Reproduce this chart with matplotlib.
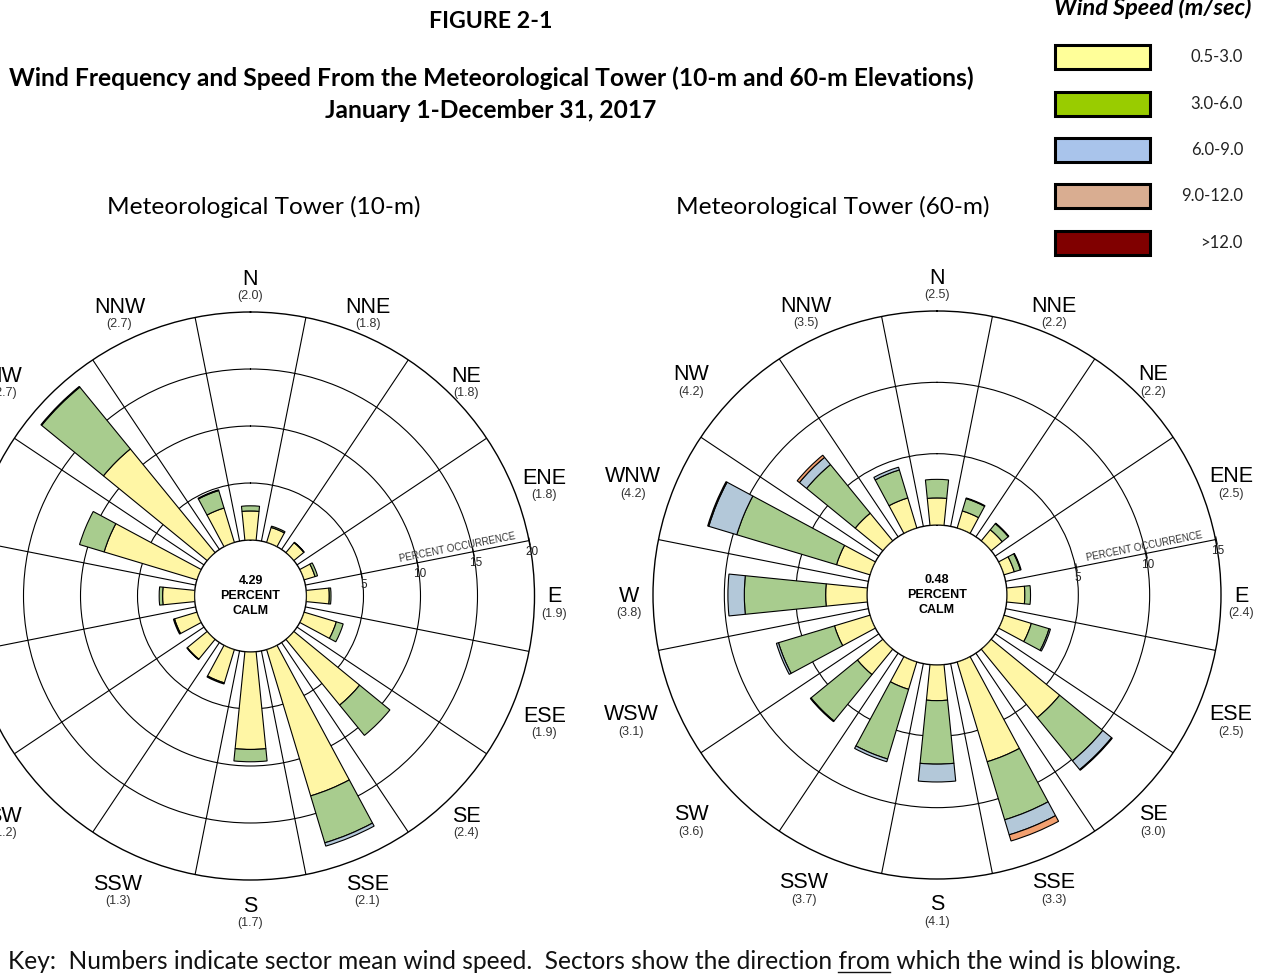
import numpy as np
import matplotlib
matplotlib.use("Agg")
import matplotlib.pyplot as plt
from matplotlib.patches import Rectangle
from matplotlib.lines import Line2D
from matplotlib.transforms import offset_copy
from matplotlib.font_manager import FontProperties

# ---------------- data ----------------
directions = ["N", "NNE", "NE", "ENE", "E", "ESE", "SE", "SSE",
              "S", "SSW", "SW", "WSW", "W", "WNW", "NW", "NNW"]
speed_classes = ["0.5-3.0", "3.0-6.0", "6.0-9.0", "9.0-12.0", ">12.0"]

# 10-m tower, percent occurrence by speed class
t10_s1 = [2.55, 1.37, 1.13, 1.00, 2.00, 2.95, 7.45, 13.40, 8.55, 3.05, 2.25, 2.05, 2.80, 8.50, 11.75, 3.15]
t10_s2 = [0.45, 0.12, 0.05, 0.23, 0.15, 0.63, 3.43, 4.30, 1.08, 0.10, 0.05, 0.10, 0.30, 2.25, 7.00, 1.60]
t10_s3 = [0.00, 0.00, 0.00, 0.00, 0.00, 0.00, 0.00, 0.30, 0.00, 0.00, 0.00, 0.00, 0.00, 0.00, 0.08, 0.07]
t10_s4 = [0.0] * 16
t10_s5 = [0.0] * 16
t10_mean = ["2.0", "1.8", "1.8", "1.8", "1.9", "1.9", "2.4", "2.1", "1.7", "1.3", "1.2", "1.3", "2.0", "2.6", "2.7", "2.7"]
t10_calm = "4.29"

# 60-m tower, percent occurrence by speed class
t60_s1 = [1.90, 1.25, 1.00, 0.75, 1.25, 2.00, 6.20, 7.30, 2.50, 2.00, 2.30, 2.60, 2.90, 2.45, 2.50, 2.20]
t60_s2 = [1.30, 0.90, 0.55, 0.45, 0.40, 1.30, 3.90, 4.25, 4.45, 5.10, 4.20, 4.10, 5.70, 7.30, 4.40, 2.05]
t60_s3 = [0.00, 0.05, 0.05, 0.05, 0.00, 0.10, 0.80, 1.10, 1.25, 0.20, 0.06, 0.15, 1.15, 2.05, 0.65, 0.20]
t60_s4 = [0.00, 0.00, 0.00, 0.00, 0.00, 0.00, 0.06, 0.45, 0.00, 0.00, 0.00, 0.00, 0.00, 0.08, 0.20, 0.00]
t60_s5 = [0.0] * 16
t60_mean = ["2.5", "2.2", "2.2", "2.5", "2.4", "2.5", "3.0", "3.3", "4.1", "3.7", "3.6", "3.1", "3.8", "4.2", "4.2", "3.5"]
t60_calm = "0.48"

# ---------------- styles / layout ----------------
bar_colors = ["#FFF6A5", "#A8CC8E", "#B3C8D9", "#F2A070", "#7F0000"]
legend_colors = ["#FFFF99", "#99CC00", "#A9C4EB", "#D9AD91", "#800000"]
ROSE_FONT = ["Liberation Sans", "DejaVu Sans"]
TXT_FONT = ["Lato", "DejaVu Sans"]

W_PX, H_PX = 1267, 975
fig = plt.figure(figsize=(W_PX / 100, H_PX / 100), dpi=100)
fig.patch.set_facecolor("white")

AX_PX = 568.0  # polar axes size in pixels (outer ring radius 284 px)
# direction-name placement relative to the rose centre (pixels, x right / y down)
name_dx = [0, 117, 216, 294, 304, 294, 216, 117, 0, -133, -246, -306, -308, -304, -246, -131]
name_dy = [-317, -289, -220, -118, 1, 120, 220, 288, 310, 288, 220, 120, 1, -118, -220, -289]


def px_axes(cx, cy):
    return [(cx - AX_PX / 2) / W_PX, 1 - (cy + AX_PX / 2) / H_PX, AX_PX / W_PX, AX_PX / H_PX]


def draw_rose(cx, cy, layers, rmax, rings, calm_txt, means, hole, pct_label_r):
    ax = fig.add_axes(px_axes(cx, cy), projection="polar")
    ax.set_theta_zero_location("N")
    ax.set_theta_direction(-1)
    ax.set_ylim(0, rmax)
    ax.set_rorigin(-hole)
    ax.set_axisbelow(True)

    theta = np.deg2rad(np.arange(16) * 22.5)
    width = np.deg2rad(11.5)
    bottom = np.zeros(16)
    for vals, col in zip(layers, bar_colors):
        v = np.asarray(vals, dtype=float)
        m = v > 0
        if m.any():
            ax.bar(theta[m], v[m], width=width, bottom=bottom[m], color=col,
                   edgecolor="black", linewidth=0.8, zorder=3)
        bottom += v

    ax.set_xticks(np.deg2rad(np.arange(11.25, 360, 22.5)))
    ax.set_xticklabels([])
    ax.set_yticks(rings)
    ax.set_yticklabels([])
    ax.tick_params(length=0)
    ax.grid(True, color="black", linewidth=0.8)
    for s in ax.spines.values():
        s.set_color("black")
        s.set_linewidth(1.0)

    # percent occurrence axis along the ENE/E boundary
    ta = np.deg2rad(78.75)
    tick_vals = list(rings) + [rmax]
    ax.plot([ta] * len(tick_vals), tick_vals, linestyle="none", marker=(2, 0, 11.25),
            markersize=6, markeredgewidth=0.8, color="black", clip_on=False, zorder=4)
    tr_lab = offset_copy(ax.transData, fig=fig, x=2.5, y=-11, units="dots")
    for v in tick_vals:
        ax.text(ta, v, f"{v:g}", transform=tr_lab, ha="center", va="center",
                fontsize=8.5, color="#222222", family=ROSE_FONT, zorder=5)
    tr_pct = offset_copy(ax.transData, fig=fig, x=-1.4, y=7, units="dots")
    ax.text(ta, pct_label_r, "PERCENT OCCURRENCE", transform=tr_pct, rotation=11.25,
            rotation_mode="anchor", ha="center", va="center", fontsize=7,
            color="#333333", family=ROSE_FONT, zorder=5)

    # calm
    ax.text(0.5, 0.5, f"{calm_txt}\nPERCENT\nCALM", transform=ax.transAxes,
            ha="center", va="center", fontsize=9, fontweight="bold",
            linespacing=1.3, family=ROSE_FONT)

    # direction labels with sector mean speed
    for i, (d, mv) in enumerate(zip(directions, means)):
        x = 0.5 + name_dx[i] / AX_PX
        y = 0.5 - name_dy[i] / AX_PX
        ax.text(x, y, d, transform=ax.transAxes, ha="center", va="center",
                fontsize=15.5, family=ROSE_FONT, clip_on=False)
        ax.text(x, y - 17 / AX_PX, f"({mv})", transform=ax.transAxes, ha="center",
                va="center", fontsize=9, color="#333333", family=ROSE_FONT, clip_on=False)
    return ax


draw_rose(250.5, 596, [t10_s1, t10_s2, t10_s3, t10_s4, t10_s5], 20, [5, 10, 15],
          t10_calm, t10_mean, 4.91, 13.7)
draw_rose(937, 595, [t60_s1, t60_s2, t60_s3, t60_s4, t60_s5], 15, [5, 10],
          t60_calm, t60_mean, 4.905, 10.0)


def fx(px):
    return px / W_PX


def fy(py):
    return 1 - py / H_PX


# titles
fig.text(fx(491), fy(21), "FIGURE 2-1", ha="center", va="center", fontsize=16.7,
         fontweight="bold", family=TXT_FONT)
fig.text(fx(491), fy(78), "Wind Frequency and Speed From the Meteorological Tower (10-m and 60-m Elevations)",
         ha="center", va="center", fontsize=17.75, fontweight="bold", family=TXT_FONT)
fig.text(fx(491), fy(110), "January 1-December 31, 2017", ha="center", va="center",
         fontsize=17.7, fontweight="bold", family=TXT_FONT)
fig.text(fx(264), fy(207), "Meteorological Tower (10-m)", ha="center", va="center",
         fontsize=17.6, family=TXT_FONT)
fig.text(fx(833), fy(207), "Meteorological Tower (60-m)", ha="center", va="center",
         fontsize=17.6, family=TXT_FONT)

# legend
fig.text(fx(1153), fy(15), "Wind Speed (m/sec)", ha="center", va="baseline", fontsize=16.9,
         fontweight="bold", fontstyle="italic", family=TXT_FONT)
box_tops = [45, 92, 138, 184, 231]
for top, col, lab in zip(box_tops, legend_colors, speed_classes):
    fig.add_artist(Rectangle((fx(1055), fy(top + 24)), 95 / W_PX, 24 / H_PX,
                             transform=fig.transFigure, facecolor=col,
                             edgecolor="black", linewidth=2.2))
    fig.text(fx(1243), fy(top + 12), lab, ha="right", va="center", fontsize=12,
             color="#222222", family=TXT_FONT)

# key with underlined "from"
key_pre = "Key:  Numbers indicate sector mean wind speed.  Sectors show the direction "
key_word = "from"
key_post = " which the wind is blowing."
key_fs = 17.65
fig.text(fx(8), fy(969), key_pre + key_word + key_post, ha="left", va="baseline",
         fontsize=key_fs, family=TXT_FONT, color="#111111")
fig.canvas.draw()
renderer = fig.canvas.get_renderer()
fp = FontProperties(family=TXT_FONT, size=key_fs)
w_pre, _, _ = renderer.get_text_width_height_descent(key_pre, fp, ismath=False)
w_word, _, _ = renderer.get_text_width_height_descent(key_word, fp, ismath=False)
x0 = 8 + w_pre
fig.add_artist(Line2D([fx(x0), fx(x0 + w_word)], [fy(972), fy(972)],
                      transform=fig.transFigure, color="#111111", linewidth=1.0))

fig.savefig("out.png", dpi=100, facecolor="white")
